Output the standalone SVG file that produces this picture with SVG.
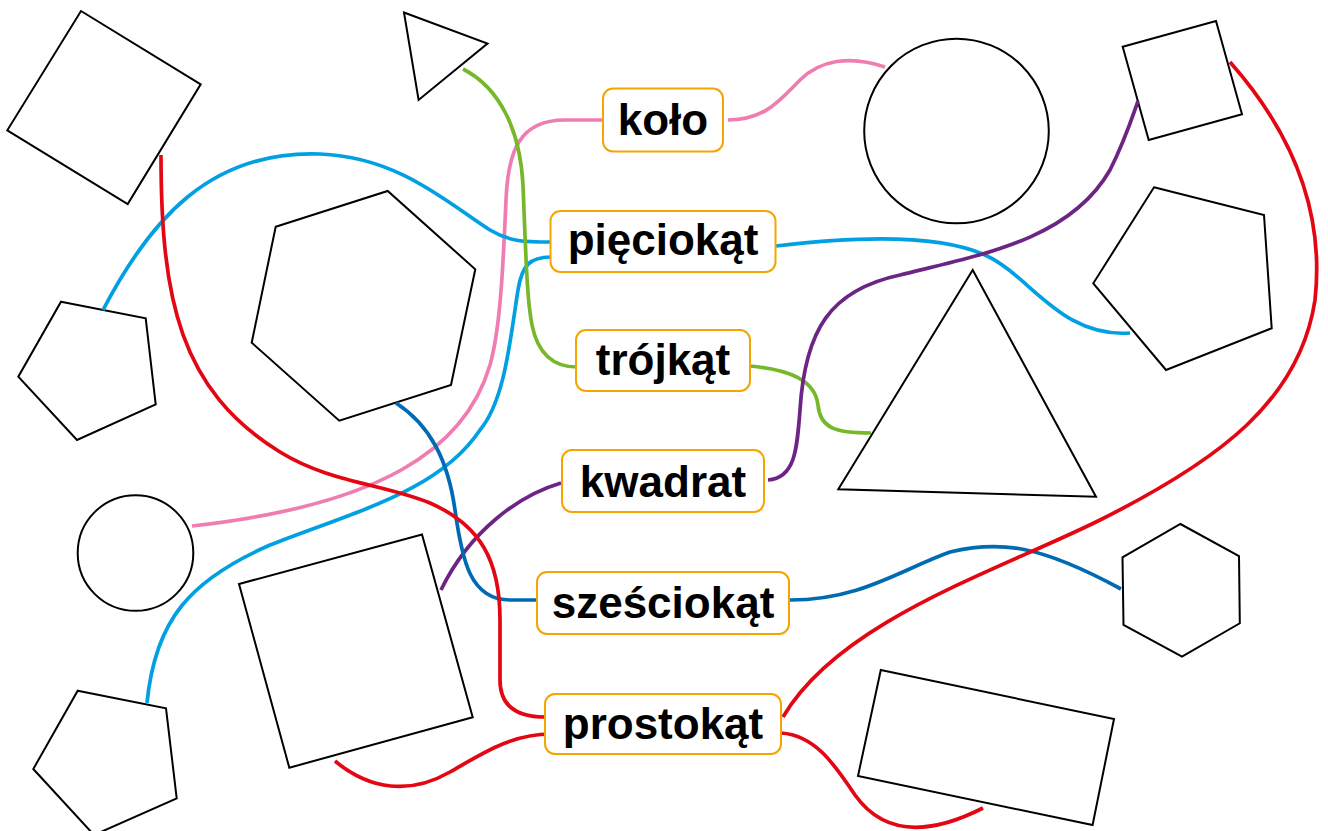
<svg xmlns="http://www.w3.org/2000/svg" width="1328" height="831" viewBox="0 0 1328 831">
<style>
.shape{fill:none;stroke:#000;stroke-width:2;stroke-linejoin:miter}
.c{fill:none;stroke-width:3.7;stroke-linecap:butt}
.pink{stroke:#EF7DB1}
.lblue{stroke:#00A0E3}
.green{stroke:#76B82A}
.purple{stroke:#6C2585}
.dblue{stroke:#006AB3}
.red{stroke:#E30613}
.box{fill:#fff;stroke:#F5A400;stroke-width:2}
.lbl{font-family:"Liberation Sans",Arial,sans-serif;font-weight:bold;font-size:44px;fill:#000;text-anchor:middle}
</style>
<rect width="1328" height="831" fill="#fff"/>
<g id="shapes">
<polygon id="square-tl" class="shape" points="81,11 200.7,84.3 127.7,204 7.3,130.3"/>
<polygon id="triangle-top" class="shape" points="404,12.5 487.5,43.5 418.6,100"/>
<polygon id="hexagon-big" class="shape" points="275.7,226.7 387.7,191 475.3,269.3 451,385 339.3,420.7 251.7,342.7"/>
<polygon id="pentagon-left" class="shape" points="61,301.7 145.7,318.3 155.7,404.3 77,440 18.3,376.7"/>
<circle id="circle-small" class="shape" cx="135.5" cy="553" r="57.8"/>
<polygon id="pentagon-bl" class="shape" points="77.7,690.7 166,708.3 176.7,798.3 94,835 33.3,769"/>
<polygon id="square-big" class="shape" points="239,584 422,534.5 472.7,717.3 289.3,767.7"/>
<circle id="circle-big" class="shape" cx="956.5" cy="131" r="92.3"/>
<polygon id="square-tr" class="shape" points="1122.7,46.7 1216,21 1242,114.3 1148.7,140"/>
<polygon id="pentagon-right" class="shape" points="1154,187.3 1264,215 1271.7,328.3 1166,370 1093.3,283.3"/>
<polygon id="triangle-big" class="shape" points="972.7,270 1096,496.7 838.3,489.3"/>
<polygon id="hexagon-right" class="shape" points="1180.4,524 1239,556 1239.8,623.3 1182,656.7 1123.5,625 1122.5,557.3"/>
<polygon id="rectangle" class="shape" points="880.8,670 1114,719 1092.6,825 858,776"/>
</g>
<g id="connectors">
<path class="c pink" d="M602,120 L565,120 C520,120 508,150 506,200 C503,270 500,330 490,365 C465,450 380,505 192,526"/>
<path class="c pink" d="M728,120 C765,120 780,100 800,80 C820,60 850,55 885,67"/>
<path class="c lblue" d="M103,310 C150,220 210,150 320,154 C400,157 450,205 490,230 C510,242 525,242 551,242"/>
<path class="c lblue" d="M551,257 C530,257 522,265 518,290 C510,340 505,400 480,430 C440,490 360,510 270,545 C190,580 155,620 147,703"/>
<path class="c lblue" d="M776,246 C860,236 940,235 985,255 C1030,275 1060,338 1130,333"/>
<path class="c green" d="M463,69 C500,88 520,130 523,185 C526,260 527,300 532,325 C538,355 555,367 577,367"/>
<path class="c green" d="M750,366 C790,370 815,380 818,405 C820,428 835,433 871,433"/>
<path class="c purple" d="M768,480 C795,478 797,450 800,410 C805,330 830,290 900,275 C980,255 1070,240 1110,170 C1125,140 1132,118 1138,101"/>
<path class="c purple" d="M561,483 C520,495 470,530 441,590"/>
<path class="c dblue" d="M396,403 C430,425 448,460 455,510 C462,560 470,600 510,600 L537,600"/>
<path class="c dblue" d="M790,600 C860,600 900,570 950,552 C1000,540 1040,545 1121,589"/>
<path class="c red" d="M161,155 C161,300 180,390 280,452 C330,483 385,484 430,503 C480,525 500,560 500,620 L500,680 C500,705 515,717 545,717"/>
<path class="c red" d="M551,734 C510,734 480,755 450,772 C410,795 370,790 335,761"/>
<path class="c red" d="M783,717 C840,620 1000,570 1100,520 C1220,460 1300,400 1315,300 C1325,210 1290,130 1230,62"/>
<path class="c red" d="M781,733 C815,735 835,765 855,795 C880,830 920,840 983,808"/>
</g>
<g id="kolo"><rect class="box" x="603" y="88.5" width="120" height="63" rx="10"/><text class="lbl" x="663" y="135">koło</text></g>
<g id="pieciokat"><rect class="box" x="550.5" y="211" width="225" height="61" rx="10"/><text class="lbl" x="663" y="255">pięciokąt</text></g>
<g id="trojkat"><rect class="box" x="576" y="330" width="174" height="61" rx="10"/><text class="lbl" x="663" y="375">trójkąt</text></g>
<g id="kwadrat"><rect class="box" x="562" y="450" width="202" height="62" rx="10"/><text class="lbl" x="663" y="497">kwadrat</text></g>
<g id="szesciokat"><rect class="box" x="537" y="572" width="252" height="62" rx="10"/><text class="lbl" x="663" y="618">sześciokąt</text></g>
<g id="prostokat"><rect class="box" x="545" y="694" width="236" height="60" rx="10"/><text class="lbl" x="663" y="739">prostokąt</text></g>
</svg>
